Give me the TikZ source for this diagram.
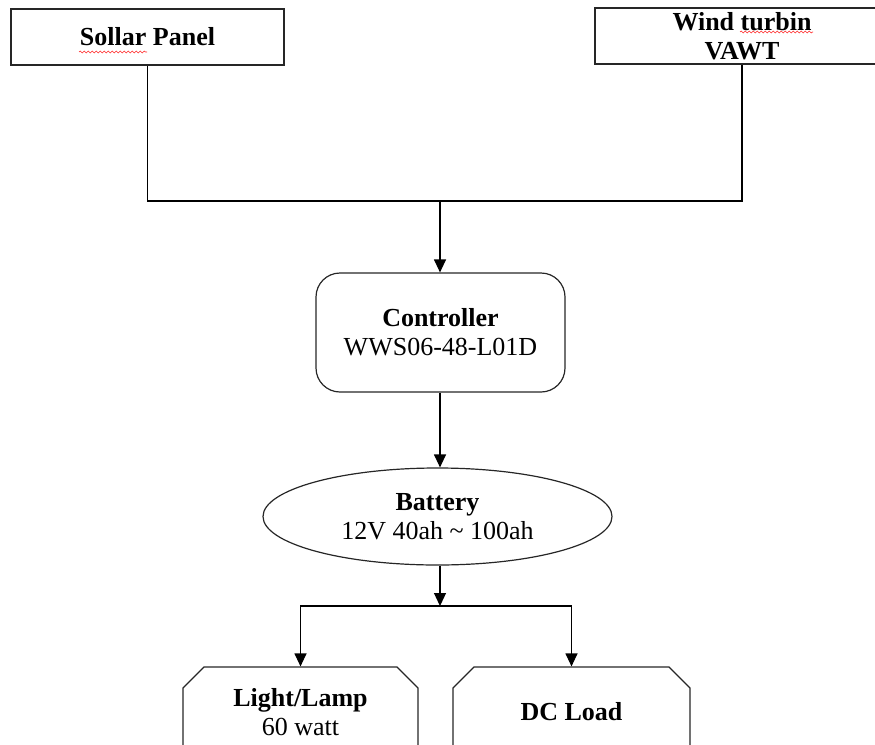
\documentclass[tikz,border=0pt]{standalone}
\usepackage{fontspec}
\setmainfont{Liberation Serif}
\usetikzlibrary{arrows.meta,shapes.geometric,shapes.misc,decorations.pathmorphing}
\tikzset{
  sourcebox/.style={draw=black!85, line width=1.4pt, rectangle, minimum height=56pt, inner sep=0pt, align=center, font=\bfseries},
  ctrlbox/.style={draw=black!85, line width=1.2pt, rectangle, rounded corners=24pt, minimum width=249pt, minimum height=119pt, align=center},
  battbox/.style={draw=black!85, line width=1.2pt, ellipse, minimum width=349pt, minimum height=97pt, inner sep=0pt, align=center},
  loadbox/.style={draw=black!85, line width=1.2pt, chamfered rectangle, chamfered rectangle corners={north west, north east}, chamfered rectangle xsep=13pt, minimum height=90pt, align=center},
  wire/.style={draw=black, line width=1.2pt},
  feed/.style={wire, -{Triangle[length=13pt,width=12pt]}},
  spellmark/.style={draw=red!85, line width=0.6pt, decorate, decoration={snake, segment length=4pt, amplitude=0.9pt}},
}

\begin{document}
\begin{tikzpicture}[x=1pt,y=-1pt]
\fontsize{26}{29}\selectfont
\clip (0,0) rectangle (875,744);
\node[sourcebox, minimum width=273pt] (solar) at (147.5,37) {Sollar Panel};
\node[sourcebox, minimum width=294pt] (wind) at (742,36) {Wind turbin\\VAWT};
\node[ctrlbox] (ctrl) at (440.5,332.5) {\textbf{Controller}\\WWS06-48-L01D};
\node[battbox] (batt) at (437.5,516.5) {\textbf{Battery}\\12V 40ah \textasciitilde{} 100ah};
\node[loadbox, minimum width=235pt] (lamp) at (300.5,712) {\textbf{Light/Lamp}\\60 watt};
\node[loadbox, minimum width=237pt] (dcload) at (571.5,712) {\textbf{DC Load}};
\coordinate (join) at (440,201);
\coordinate (split) at (440,606);
\draw[wire] (solar.south) |- (join);
\draw[wire] (wind.south) |- (join);
\draw[feed] (join) -- (join |- ctrl.north);
\draw[feed] (join |- ctrl.south) -- (join |- batt.north);
\draw[feed] (split |- batt.south) -- (split);
\draw[feed] (split) -| (lamp.north);
\draw[feed] (split) -| (dcload.north);
\draw[spellmark] (79,52) -- (147,52);
\draw[spellmark] (740,32) -- (813,32);
\end{tikzpicture}
\end{document}
